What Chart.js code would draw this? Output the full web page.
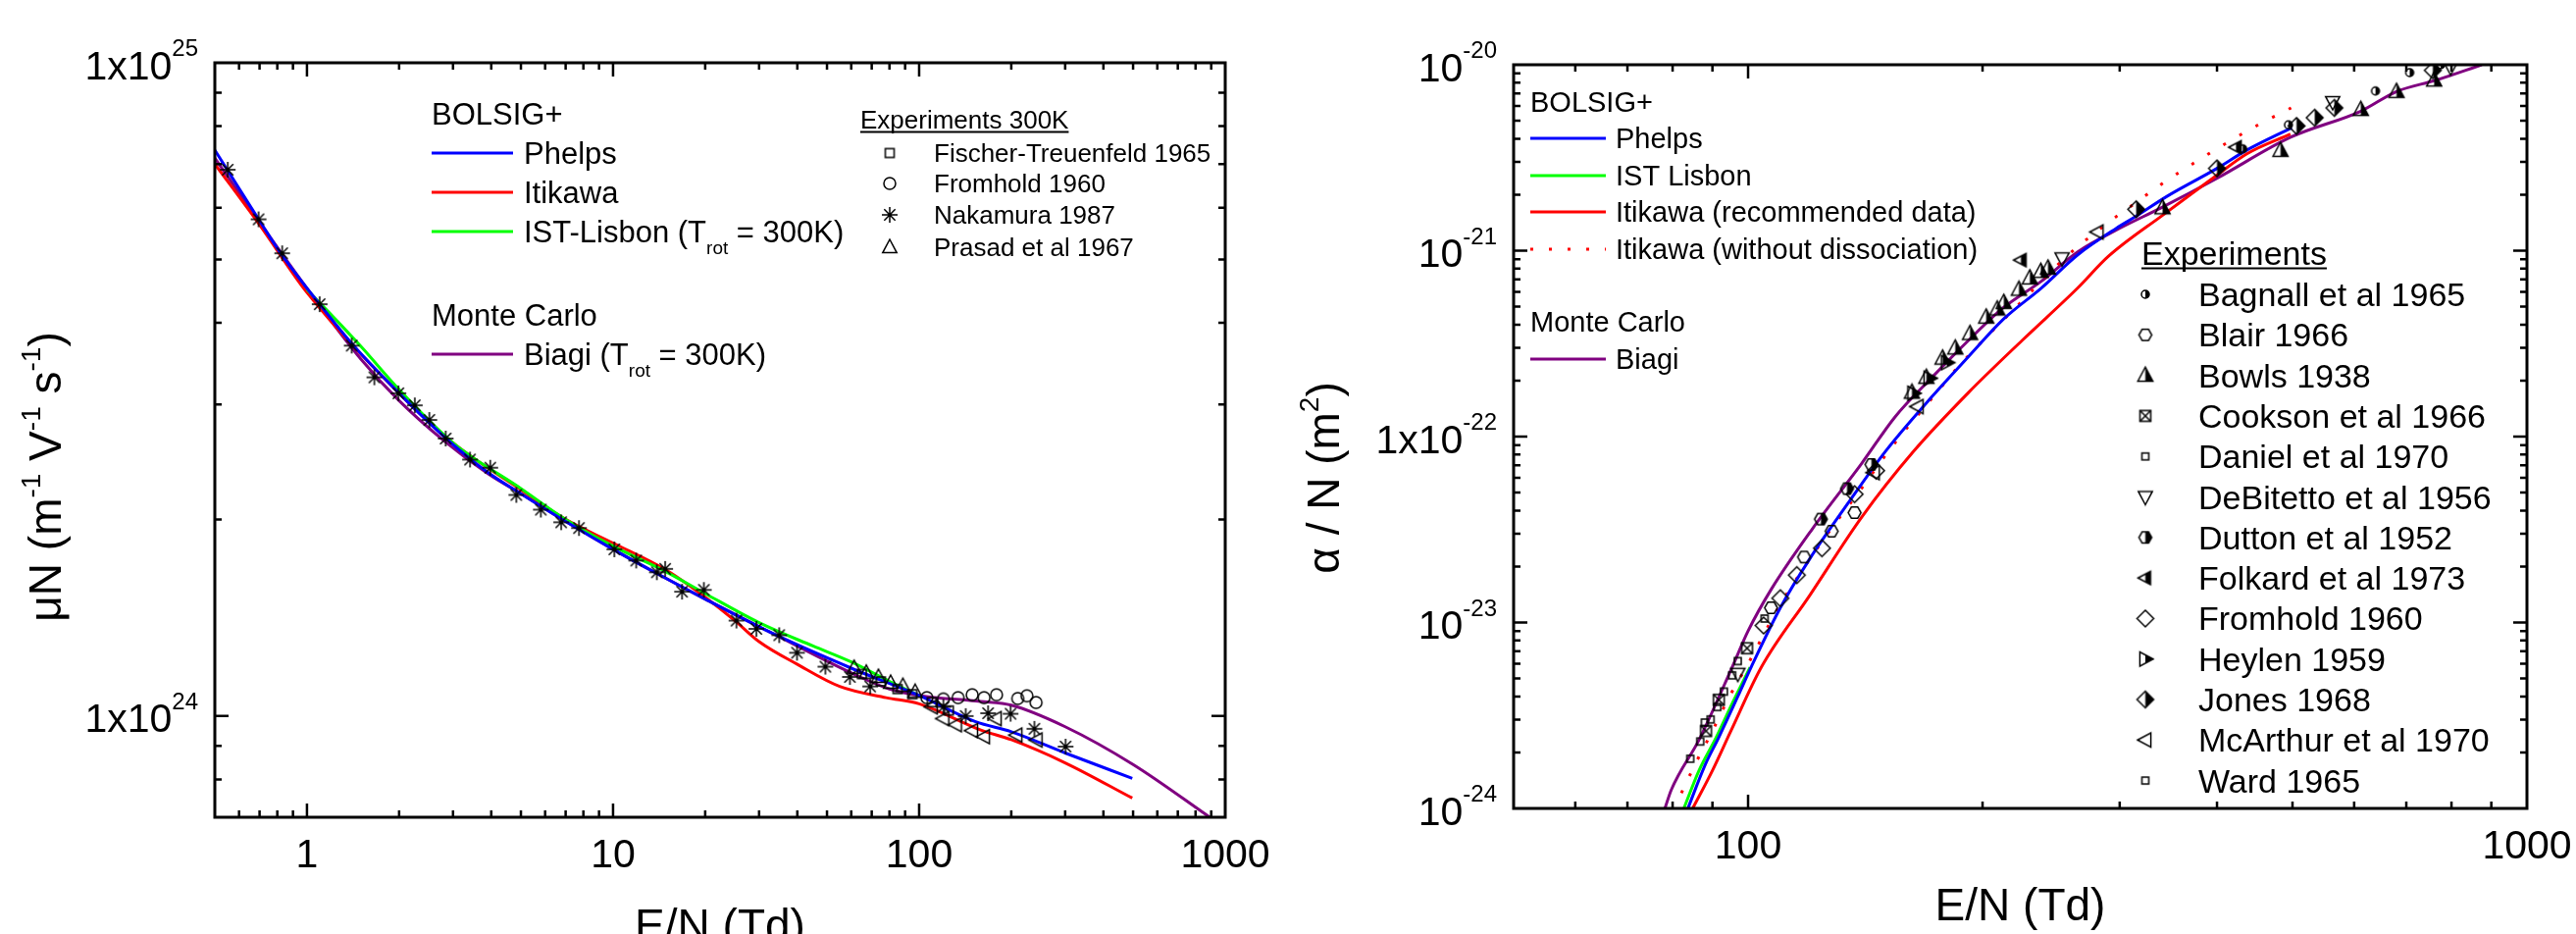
<!DOCTYPE html>
<html>
<head>
<meta charset="utf-8">
<script src="https://cdn.jsdelivr.net/npm/chart.js@4.4.1/dist/chart.umd.min.js"></script>
<style>
  html, body { margin: 0; padding: 0; background: #fff; }
  body { width: 2626px; height: 952px; position: relative; overflow: hidden; }
  canvas { position: absolute; top: 0; }
  #mobility { left: 0; }
  #ionization { left: 1310px; }
</style>
</head>
<body>
<canvas id="mobility" width="1310" height="952"></canvas>
<canvas id="ionization" width="1316" height="952"></canvas>
<script>
const FONT = '"Liberation Sans", Arial, sans-serif';

// ---- left panel: reduced mobility muN vs E/N ----
const mobPhelpsE = [0.5, 0.7, 0.82, 1.1, 1.42, 2.0, 2.8, 3.9, 5.0, 7.2, 10, 14, 20, 33, 61, 100, 153, 200, 300, 497];
const mobPhelps = [7.35e24, 5.73e24, 5.11e24, 4.27e24, 3.69e24, 3.12e24, 2.68e24, 2.36e24, 2.19e24, 1.97e24, 1.80e24, 1.65e24, 1.51e24, 1.34e24, 1.18e24, 1.075e24, 0.98e24, 0.946e24, 0.878e24, 0.803e24];
const mobItikawaE = [0.5, 0.7, 1.0, 2.0, 3.0, 5.0, 7.0, 10, 15, 20, 25, 30, 40, 55, 78, 100, 159, 200, 300, 497];
const mobItikawa = [7.0e24, 5.65e24, 4.45e24, 3.12e24, 2.62e24, 2.22e24, 2.0e24, 1.84e24, 1.67e24, 1.52e24, 1.40e24, 1.30e24, 1.20e24, 1.11e24, 1.067e24, 1.044e24, 0.952e24, 0.92e24, 0.848e24, 0.749e24];
const mobIstE = [1.0, 1.5, 2.0, 3.0, 5.0, 7.0, 10, 15, 20, 30, 45, 60, 80, 100];
const mobIst = [4.5e24, 3.68e24, 3.16e24, 2.62e24, 2.23e24, 2.0e24, 1.82e24, 1.66e24, 1.54e24, 1.39e24, 1.28e24, 1.21e24, 1.13e24, 1.075e24];
const mobBiagiE = [0.5, 0.7, 1.1, 1.5, 2.0, 2.8, 3.9, 5.0, 7.2, 10, 14, 20, 33, 61, 80, 100, 159, 200, 300, 500, 910];
const mobBiagi = [7.15e24, 5.7e24, 4.25e24, 3.52e24, 3.04e24, 2.64e24, 2.35e24, 2.19e24, 1.97e24, 1.80e24, 1.65e24, 1.51e24, 1.34e24, 1.16e24, 1.10e24, 1.075e24, 1.053e24, 1.039e24, 0.963e24, 0.843e24, 0.695e24];

const fischerE = [65, 75, 85, 95, 110, 125];
const fischerMu = [1.16e24, 1.13e24, 1.10e24, 1.08e24, 1.05e24, 1.02e24];
const fromholdMobE = [106, 120, 134, 149, 163, 179, 210, 225, 241];
const fromholdMob = [1.067e24, 1.062e24, 1.067e24, 1.078e24, 1.067e24, 1.078e24, 1.064e24, 1.074e24, 1.049e24];
const nakamuraE = [0.551, 0.695, 0.83, 1.10, 1.40, 1.66, 1.99, 2.25, 2.51, 2.84, 3.41, 3.97, 4.83, 5.81, 6.77, 7.74, 10.1, 11.9, 13.9, 14.8, 16.8, 19.8, 25.3, 29.4, 34.9, 39.9, 49.4, 59.4, 69.2, 120, 142, 168, 199, 238, 301];
const nakamuraMu = [6.86e24, 5.76e24, 5.11e24, 4.27e24, 3.69e24, 3.30e24, 3.12e24, 2.99e24, 2.84e24, 2.66e24, 2.47e24, 2.40e24, 2.18e24, 2.07e24, 1.98e24, 1.94e24, 1.80e24, 1.73e24, 1.66e24, 1.68e24, 1.55e24, 1.56e24, 1.40e24, 1.36e24, 1.33e24, 1.25e24, 1.19e24, 1.148e24, 1.11e24, 1.033e24, 1.0e24, 1.01e24, 1.008e24, 0.956e24, 0.898e24];
const prasadE = [61.3, 67.2, 73.6, 80.7, 88.5, 97, 110, 120, 132, 149, 163, 178, 208, 242];
const prasadMu = [1.185e24, 1.165e24, 1.148e24, 1.124e24, 1.112e24, 1.089e24, 1.033e24, 0.991e24, 0.970e24, 0.950e24, 0.930e24, 0.991e24, 0.935e24, 0.919e24];

const mobXTicks = [1, 10, 100, 1000];
const mobXLabels = ['1', '10', '100', '1000'];
const mobYTicks = [1e24, 1e25];
const mobYLabels = [['1x10', '24'], ['1x10', '25']];

// ---- right panel: reduced ionization coefficient alpha/N vs E/N ----
const ionPhelpsE = [83.7, 88, 91.7, 97, 101, 110, 120, 135, 150, 172, 192, 213, 238, 265, 297, 314, 345, 400, 436, 499];
const ionPhelps = [1.0e-24, 1.7e-24, 2.41e-24, 4.0e-24, 5.8e-24, 1.2e-23, 2.2e-23, 4.5e-23, 8.3e-23, 1.63e-22, 2.7e-22, 4.3e-22, 6.3e-22, 9.5e-22, 1.32e-21, 1.52e-21, 1.96e-21, 2.77e-21, 3.46e-21, 4.59e-21];
const ionIstE = [82.7, 86.5, 91.0, 95.5, 100.6];
const ionIst = [1.0e-24, 1.6e-24, 2.41e-24, 3.7e-24, 5.75e-24];
const ionItikawaE = [84.9, 90, 95, 104, 120, 140, 163, 192, 225, 265, 290, 342, 400, 437, 497];
const ionItikawa = [1e-24, 1.6e-24, 2.6e-24, 5.75e-24, 1.4e-23, 3.7e-23, 8.3e-23, 1.73e-22, 3.3e-22, 6.3e-22, 9.3e-22, 1.57e-21, 2.55e-21, 3.32e-21, 4.24e-21];
const ionNoDissE = [82.1, 85.7, 90, 94.4, 100, 110, 125, 140, 153.7, 172.7, 186.4, 223.8, 257.5, 296, 311, 342, 376, 413, 453, 498];
const ionNoDiss = [1.21e-24, 1.76e-24, 2.61e-24, 3.92e-24, 6.0e-24, 1.25e-23, 2.8e-23, 5.3e-23, 9.04e-23, 1.63e-22, 2.39e-22, 5.26e-22, 9.46e-22, 1.51e-21, 1.75e-21, 2.33e-21, 3.01e-21, 3.83e-21, 4.78e-21, 5.86e-21];
const ionBiagiE = [78.2, 79.7, 86.6, 95.4, 100, 107, 121, 140, 154.5, 172, 192, 213, 238, 265, 299, 339, 400, 497, 612, 680, 764, 875];
const ionBiagi = [1e-24, 1.26e-24, 2.36e-24, 5.75e-24, 9.0e-24, 1.5e-23, 3.2e-23, 7.2e-23, 1.28e-22, 2.07e-22, 3.3e-22, 4.96e-22, 6.85e-22, 9.86e-22, 1.31e-21, 1.70e-21, 2.45e-21, 4.07e-21, 5.63e-21, 7.18e-21, 8.26e-21, 1.0e-20];

const bagnallE = [431.6, 494, 639, 707, 775];
const bagnall = [3.53e-21, 4.75e-21, 7.23e-21, 9.07e-21, 1.0e-20];
const blairE = [107, 118, 128, 137];
const blair = [1.2e-23, 2.25e-23, 3.1e-23, 3.9e-23];
const bowlsE = [162.3, 169.4, 177.7, 184.5, 192.7, 202.2, 208.9, 213, 222.7, 230, 237.6, 242.7, 340.5, 482.6, 612, 680, 760];
const bowls = [1.73e-22, 2.08e-22, 2.64e-22, 2.99e-22, 3.58e-22, 4.39e-22, 4.85e-22, 5.26e-22, 6.19e-22, 7.13e-22, 7.73e-22, 8.05e-22, 1.70e-21, 3.46e-21, 5.74e-21, 7.18e-21, 8.26e-21];
const cooksonE = [88.3, 91.7, 99.7];
const cookson = [2.61e-24, 3.84e-24, 7.27e-24];
const danielE = [84.3, 86.8, 89.5, 91.3, 93.1, 95.4];
const daniel = [1.85e-24, 2.29e-24, 3.01e-24, 3.51e-24, 4.25e-24, 5.2e-24];
const debitettoE = [97, 253, 563, 798];
const debitetto = [5.3e-24, 9.1e-22, 6.3e-21, 9.7e-21];
const duttonE = [124, 134, 144];
const dutton = [3.6e-23, 5.25e-23, 7.08e-23];
const folkardE = [224, 423];
const folkard = [8.9e-22, 3.6e-21];
const fromholdIonE = [104.7, 110, 115.5, 124.4, 137, 146];
const fromholdIon = [9.64e-24, 1.35e-23, 1.8e-23, 2.51e-23, 4.9e-23, 6.56e-23];
const heylenE = [163, 171, 180];
const heylen = [1.71e-22, 2.06e-22, 2.5e-22];
const jonesE = [315, 400, 506, 534, 566, 757];
const jones = [1.67e-21, 2.77e-21, 4.69e-21, 5.19e-21, 5.86e-21, 9.33e-21];
const mcarthurE = [145, 165, 281];
const mcarthur = [6.4e-23, 1.45e-22, 1.26e-21];
const wardE = [88, 97, 105];
const ward = [2.9e-24, 6.2e-24, 1.05e-23];

const ionXTicks = [100, 1000];
const ionXLabels = ['100', '1000'];
const ionYTicks = [1e-24, 1e-23, 1e-22, 1e-21, 1e-20];
const ionYLabels = [['10', '-24'], ['10', '-23'], ['1x10', '-22'], ['10', '-21'], ['10', '-20']];

const BLUE = '#0000ff';
const RED = '#ff0000';
const GREEN = '#00ff00';
const PURPLE = '#800080';

function pts(xs, ys) {
  return xs.map((x, i) => ({ x: x, y: ys[i] }));
}

// small canvas used as a point style (open, or half filled on the right)
function makeMarker(shape, r, half) {
  const s = Math.ceil(2 * r + 4);
  const c = document.createElement('canvas');
  c.width = s;
  c.height = s;
  const g = c.getContext('2d');
  g.translate(s / 2, s / 2);
  g.lineWidth = 1.5;
  g.strokeStyle = '#000';
  g.fillStyle = '#000';
  const base = shape === 'squareX' ? 'square' : shape;
  const path = () => {
    g.beginPath();
    if (base === 'circle') {
      g.arc(0, 0, r, 0, Math.PI * 2);
      return;
    }
    if (base === 'star') {
      for (let k = 0; k < 4; k++) {
        const t = k * Math.PI / 4;
        g.moveTo(-r * Math.cos(t), -r * Math.sin(t));
        g.lineTo(r * Math.cos(t), r * Math.sin(t));
      }
      return;
    }
    const poly = {
      square: [[-r, -r], [r, -r], [r, r], [-r, r]],
      diamond: [[0, -r], [r, 0], [0, r], [-r, 0]],
      hex: [0, 1, 2, 3, 4, 5].map((k) => [r * Math.cos(k * Math.PI / 3), r * Math.sin(k * Math.PI / 3)]),
      up: [[0, -r], [r * 0.9, r * 0.7], [-r * 0.9, r * 0.7]],
      down: [[0, r], [r * 0.9, -r * 0.7], [-r * 0.9, -r * 0.7]],
      left: [[-r, 0], [r * 0.7, -r * 0.9], [r * 0.7, r * 0.9]],
      right: [[r, 0], [-r * 0.7, -r * 0.9], [-r * 0.7, r * 0.9]],
    }[base];
    poly.forEach(([x, y], i) => (i ? g.lineTo(x, y) : g.moveTo(x, y)));
    g.closePath();
  };
  if (half) {
    g.save();
    g.beginPath();
    g.rect(0, -s, s, 2 * s);
    g.clip();
    path();
    g.fill();
    g.restore();
  }
  path();
  g.stroke();
  if (shape === 'squareX') {
    g.beginPath();
    g.moveTo(-r, -r); g.lineTo(r, r);
    g.moveTo(r, -r); g.lineTo(-r, r);
    g.stroke();
  }
  return c;
}

const MK = {
  fischer: makeMarker('square', 4.5),
  fromholdMob: makeMarker('circle', 6),
  nakamura: makeMarker('star', 8),
  prasad: makeMarker('up', 8),
  bagnall: makeMarker('circle', 4, true),
  blair: makeMarker('hex', 6.5),
  bowls: makeMarker('up', 8.5, true),
  cookson: makeMarker('squareX', 5.5),
  daniel: makeMarker('square', 3.5),
  debitetto: makeMarker('down', 8),
  dutton: makeMarker('hex', 6.5, true),
  folkard: makeMarker('left', 7.5, true),
  fromholdIon: makeMarker('diamond', 8.5),
  heylen: makeMarker('right', 8, true),
  jones: makeMarker('diamond', 8.5, true),
  mcarthur: makeMarker('left', 8),
  ward: makeMarker('square', 3.5),
};

function line(xs, ys, color, extra) {
  return Object.assign({
    data: pts(xs, ys),
    showLine: true,
    borderColor: color,
    borderWidth: 3,
    pointRadius: 0,
    cubicInterpolationMode: 'monotone',
    fill: false,
  }, extra || {});
}

function marks(xs, ys, style, extra) {
  return Object.assign({
    data: pts(xs, ys),
    showLine: false,
    pointStyle: style,
    pointRadius: 5,
    borderColor: '#000',
    backgroundColor: 'rgba(0,0,0,0)',
  }, extra || {});
}

// text made of pieces: [text, 0 normal | 1 superscript | -1 subscript]
function rich(ctx, parts, x, y, size, align, small, rise, drop) {
  const fs = (p) => (p[1] === 0 ? size : Math.round(size * small));
  const widths = parts.map((p) => {
    ctx.font = fs(p) + 'px ' + FONT;
    return ctx.measureText(p[0]).width;
  });
  const total = widths.reduce((a, b) => a + b, 0);
  let cx = align === 'right' ? x - total : align === 'center' ? x - total / 2 : x;
  ctx.textAlign = 'left';
  ctx.textBaseline = 'alphabetic';
  parts.forEach((p, i) => {
    ctx.font = fs(p) + 'px ' + FONT;
    const dy = p[1] === 1 ? -size * rise : p[1] === -1 ? size * drop : 0;
    ctx.fillText(p[0], cx, y + dy);
    cx += widths[i];
  });
  return total;
}

function logTicks(ctx, scale, area, horizontal) {
  const lo = Math.floor(Math.log10(scale.min));
  const hi = Math.ceil(Math.log10(scale.max));
  ctx.beginPath();
  for (let d = lo; d <= hi; d++) {
    for (let k = 1; k <= 9; k++) {
      const v = k * Math.pow(10, d);
      if (v <= scale.min * 1.001 || v >= scale.max * 0.999) continue;
      const len = k === 1 ? 14 : 7;
      const p = scale.getPixelForValue(v);
      if (horizontal) {
        ctx.moveTo(p, area.bottom); ctx.lineTo(p, area.bottom - len);
        ctx.moveTo(p, area.top); ctx.lineTo(p, area.top + len);
      } else {
        ctx.moveTo(area.left, p); ctx.lineTo(area.left + len, p);
        ctx.moveTo(area.right, p); ctx.lineTo(area.right - len, p);
      }
    }
  }
  ctx.stroke();
}

function framePlugin(axes) {
  return {
    id: 'frame',
    afterDraw(chart) {
      const ctx = chart.ctx;
      const a = chart.chartArea;
      const xs = chart.scales.x;
      const ys = chart.scales.y;
      ctx.save();
      ctx.strokeStyle = '#000';
      ctx.fillStyle = '#000';
      ctx.lineWidth = 2.5;
      logTicks(ctx, xs, a, true);
      logTicks(ctx, ys, a, false);
      ctx.lineWidth = 3;
      ctx.strokeRect(a.left, a.top, a.right - a.left, a.bottom - a.top);

      ctx.font = '41px ' + FONT;
      ctx.textAlign = 'center';
      ctx.textBaseline = 'alphabetic';
      axes.xTicks.forEach((v, i) => {
        ctx.fillText(axes.xLabels[i], xs.getPixelForValue(v), a.bottom + 51);
      });
      axes.yTicks.forEach((v, i) => {
        const lab = axes.yLabels[i];
        rich(ctx, [[lab[0], 0], [lab[1], 1]], a.left - 17, ys.getPixelForValue(v) + 16.5, 41, 'right', 0.585, 0.57, 0);
      });

      rich(ctx, axes.xTitle, (a.left + a.right) / 2, axes.xTitleY, 46, 'center', 0.6, 0.45, 0.3);
      ctx.save();
      ctx.translate(axes.yTitleX, axes.yTitleY);
      ctx.rotate(-Math.PI / 2);
      rich(ctx, axes.yTitle, 0, 16.5, 46, 'center', 0.6, 0.45, 0.3);
      ctx.restore();

      axes.legend(ctx);
      ctx.restore();
    },
  };
}

function legendLine(ctx, x0, x1, y, color, dash) {
  ctx.save();
  ctx.strokeStyle = color;
  ctx.lineWidth = 3;
  ctx.setLineDash(dash || []);
  ctx.beginPath();
  ctx.moveTo(x0, y);
  ctx.lineTo(x1, y);
  ctx.stroke();
  ctx.restore();
}

function legendMarker(ctx, img, x, y) {
  ctx.drawImage(img, x - img.width / 2, y - img.height / 2);
}

function underlined(ctx, text, x, y, size) {
  ctx.font = size + 'px ' + FONT;
  ctx.textAlign = 'left';
  ctx.textBaseline = 'alphabetic';
  ctx.fillText(text, x, y);
  const w = ctx.measureText(text).width;
  ctx.lineWidth = 2;
  ctx.beginPath();
  ctx.moveTo(x, y + 3.5);
  ctx.lineTo(x + w, y + 3.5);
  ctx.stroke();
}

function mobLegend(ctx) {
  const s = 31;
  const b = s * 0.358;
  rich(ctx, [['BOLSIG+', 0]], 440, 116 + b, s, 'left', 0.61, 0, 0.39);
  const rows = [
    [BLUE, [['Phelps', 0]], 156],
    [RED, [['Itikawa', 0]], 196],
    [GREEN, [['IST-Lisbon (T', 0], ['rot', -1], [' = 300K)', 0]], 236],
    [PURPLE, [['Biagi (T', 0], ['rot', -1], [' = 300K)', 0]], 361],
  ];
  rich(ctx, [['Monte Carlo', 0]], 440, 321 + b, s, 'left', 0.61, 0, 0.39);
  rows.forEach(([c, parts, y]) => {
    legendLine(ctx, 440, 523, y, c);
    rich(ctx, parts, 534, y + b, s, 'left', 0.61, 0, 0.39);
  });

  ctx.strokeStyle = '#000';
  underlined(ctx, 'Experiments 300K', 877, 131, 26);
  const exp = [
    [MK.fischer, 'Fischer-Treuenfeld 1965', 156],
    [MK.fromholdMob, 'Fromhold 1960', 187],
    [MK.nakamura, 'Nakamura 1987', 219],
    [MK.prasad, 'Prasad et al 1967', 252],
  ];
  exp.forEach(([m, t, y]) => {
    legendMarker(ctx, m, 907, y);
    rich(ctx, [[t, 0]], 952, y + 9.3, 26, 'left', 0.6, 0, 0);
  });
}

function ionLegend(ctx) {
  const s = 29;
  const b = s * 0.358;
  rich(ctx, [['BOLSIG+', 0]], 250, 104 + b, s, 'left', 0.6, 0, 0);
  const rows = [
    [BLUE, 'Phelps', 141, null],
    [GREEN, 'IST Lisbon', 179, null],
    [RED, 'Itikawa (recommended data)', 216, null],
    [RED, 'Itikawa (without dissociation)', 254, [3, 16]],
    [PURPLE, 'Biagi', 366, null],
  ];
  rich(ctx, [['Monte Carlo', 0]], 250, 328 + b, s, 'left', 0.6, 0, 0);
  rows.forEach(([c, t, y, dash]) => {
    legendLine(ctx, 250, 327, y, c, dash);
    rich(ctx, [[t, 0]], 337, y + b, s, 'left', 0.6, 0, 0);
  });

  ctx.strokeStyle = '#000';
  underlined(ctx, 'Experiments', 873, 270, 34);
  const exp = [
    [MK.bagnall, 'Bagnall et al 1965'],
    [MK.blair, 'Blair 1966'],
    [MK.bowls, 'Bowls 1938'],
    [MK.cookson, 'Cookson et al 1966'],
    [MK.daniel, 'Daniel et al 1970'],
    [MK.debitetto, 'DeBitetto et al 1956'],
    [MK.dutton, 'Dutton et al 1952'],
    [MK.folkard, 'Folkard et al 1973'],
    [MK.fromholdIon, 'Fromhold 1960'],
    [MK.heylen, 'Heylen 1959'],
    [MK.jones, 'Jones 1968'],
    [MK.mcarthur, 'McArthur et al 1970'],
    [MK.ward, 'Ward 1965'],
  ];
  exp.forEach(([m, t], i) => {
    const y = 300 + i * 41.3;
    legendMarker(ctx, m, 877, y);
    rich(ctx, [[t, 0]], 931, y + 12, 34, 'left', 0.6, 0, 0);
  });
}

const commonOptions = (padding, xMin, xMax, yMin, yMax) => ({
  responsive: false,
  animation: false,
  events: [],
  layout: { padding: padding },
  scales: {
    x: { type: 'logarithmic', min: xMin, max: xMax, display: false },
    y: { type: 'logarithmic', min: yMin, max: yMax, display: false },
  },
  plugins: {
    legend: { display: false },
    tooltip: { enabled: false },
  },
});

new Chart(document.getElementById('mobility'), {
  type: 'scatter',
  data: {
    datasets: [
      marks(nakamuraE, nakamuraMu, MK.nakamura),
      marks(fromholdMobE, fromholdMob, MK.fromholdMob),
      marks(fischerE, fischerMu, MK.fischer),
      marks(prasadE, prasadMu, MK.prasad, {
        pointRotation: (c) => (c.raw && c.raw.x > 105 ? -90 : 0),
      }),
      line(mobPhelpsE, mobPhelps, BLUE),
      line(mobIstE, mobIst, GREEN),
      line(mobItikawaE, mobItikawa, RED),
      line(mobBiagiE, mobBiagi, PURPLE),
    ],
  },
  options: commonOptions({ left: 219, right: 61, top: 64, bottom: 119 }, 0.5, 1000, 7e23, 1e25),
  plugins: [framePlugin({
    xTicks: mobXTicks,
    xLabels: mobXLabels,
    yTicks: mobYTicks,
    yLabels: mobYLabels,
    xTitle: [['E/N (Td)', 0]],
    xTitleY: 959,
    yTitle: [['\u03BCN (m', 0], ['-1', 1], [' V', 0], ['-1', 1], [' s', 0], ['-1', 1], [')', 0]],
    yTitleX: 45,
    yTitleY: 486,
    legend: mobLegend,
  })],
});

new Chart(document.getElementById('ionization'), {
  type: 'scatter',
  data: {
    datasets: [
      marks(bagnallE, bagnall, MK.bagnall),
      marks(blairE, blair, MK.blair),
      marks(bowlsE, bowls, MK.bowls),
      marks(cooksonE, cookson, MK.cookson),
      marks(danielE, daniel, MK.daniel),
      marks(debitettoE, debitetto, MK.debitetto),
      marks(duttonE, dutton, MK.dutton),
      marks(folkardE, folkard, MK.folkard),
      marks(fromholdIonE, fromholdIon, MK.fromholdIon),
      marks(heylenE, heylen, MK.heylen),
      marks(jonesE, jones, MK.jones),
      marks(mcarthurE, mcarthur, MK.mcarthur),
      marks(wardE, ward, MK.ward),
      line(ionPhelpsE, ionPhelps, BLUE),
      line(ionIstE, ionIst, GREEN),
      line(ionNoDissE, ionNoDiss, RED, { borderDash: [3, 16] }),
      line(ionItikawaE, ionItikawa, RED),
      line(ionBiagiE, ionBiagi, PURPLE),
    ],
  },
  options: commonOptions({ left: 233, right: 50, top: 66, bottom: 128 }, 50, 1000, 1e-24, 1e-20),
  plugins: [framePlugin({
    xTicks: ionXTicks,
    xLabels: ionXLabels,
    yTicks: ionYTicks,
    yLabels: ionYLabels,
    xTitle: [['E/N (Td)', 0]],
    xTitleY: 938,
    yTitle: [['\u03B1 / N (m', 0], ['2', 1], [')', 0]],
    yTitleX: 38,
    yTitleY: 487,
    legend: ionLegend,
  })],
});
</script>
</body>
</html>
